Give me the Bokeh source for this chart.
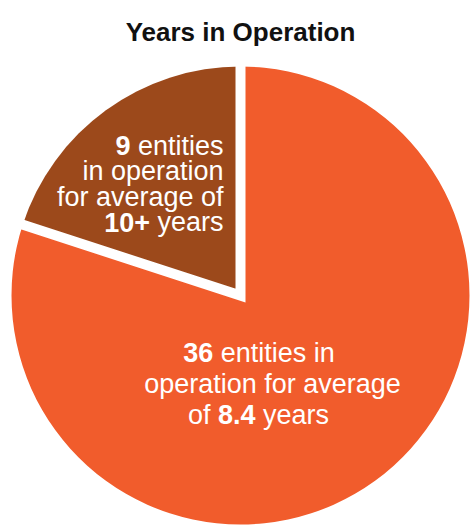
import math
from bokeh.plotting import figure
from bokeh.models import Range1d
from bokeh.core.properties import value
from bokeh.embed import file_html
from bokeh.resources import INLINE

# ---- data ----
categories = ["Under 10 years", "10+ years"]
entity_counts = [36, 9]
avg_years = ["8.4", "10+"]
slice_colors = ["#F15C2C", "#9C491B"]
title_text = "Years in Operation"

W, H = 470, 525
FONT = "Liberation Sans"
FS = 27

# Arial / Liberation Sans advance widths (per 1000 em)
REG = {" ": 278, "a": 556, "e": 556, "f": 278, "g": 556, "i": 222, "n": 556, "o": 556,
       "p": 556, "r": 333, "s": 500, "t": 278, "v": 500, "y": 500, ".": 278, "+": 584}
BOLD = {" ": 278, ".": 278, "+": 584}


def tw(s, bold):
    tbl = BOLD if bold else REG
    w = 0.0
    for ch in s:
        w += 556 if ch.isdigit() else tbl.get(ch, 556)
    return w / 1000.0 * FS


p = figure(width=W, height=H, x_range=Range1d(0, W), y_range=Range1d(0, H),
           output_backend="svg", toolbar_location=None, min_border=0)
p.axis.visible = False
p.grid.visible = False
p.outline_line_color = None
p.background_fill_color = "white"
p.border_fill_color = "white"

cx, cy_px, R = 240, 295, 229
cy = H - cy_px

# wedges, clockwise from 12 o'clock
total = sum(entity_counts)
angles = [math.pi / 2]
for v in entity_counts:
    angles.append(angles[-1] - 2 * math.pi * v / total)
p.wedge(x=[cx] * len(entity_counts), y=[cy] * len(entity_counts), radius=R,
        start_angle=angles[:-1], end_angle=angles[1:], direction="clock",
        fill_color=slice_colors, line_color=None)

# white gaps along slice boundaries (mitered at the centre)
ext = R + 15
a0, a1 = angles[0], angles[1]
p.line(x=[cx + ext * math.cos(a0), cx, cx + ext * math.cos(a1)],
       y=[cy + ext * math.sin(a0), cy, cy + ext * math.sin(a1)],
       line_color="white", line_width=10, line_join="miter", line_cap="butt")

# title
p.text(x=[240], y=[H - 31.5], text=[title_text], text_font=value(FONT),
       text_font_size="26px", text_font_style="bold", text_color="#111111",
       text_align="center", text_baseline="alphabetic")


def draw_line(segs, x_anchor, y_px, mode):
    total_w = sum(tw(s, b) for s, b in segs)
    x = x_anchor - total_w if mode == "right" else x_anchor - total_w / 2
    for s, b in segs:
        lead = len(s) - len(s.lstrip(" "))
        trail = len(s) - len(s.rstrip(" "))
        core = s.strip(" ")
        x += tw(" " * lead, b)
        p.text(x=[x], y=[H - y_px], text=[core], text_font=value(FONT),
               text_font_size=f"{FS}px", text_font_style="bold" if b else "normal",
               text_color="white", text_align="left", text_baseline="alphabetic")
        x += tw(core, b) + tw(" " * trail, b)


brown_lines = [
    [(str(entity_counts[1]), True), (" entities", False)],
    [("in operation", False)],
    [("for average of", False)],
    [(avg_years[1], True), (" years", False)],
]
for i, segs in enumerate(brown_lines):
    draw_line(segs, 223, 145 + i * 25.6, "right")

orange_lines = [
    [(str(entity_counts[0]), True), (" entities in", False)],
    [("operation for average", False)],
    [("of ", False), (avg_years[0], True), (" years", False)],
]
orange_centers = [258.5, 272, 258]
for i, segs in enumerate(orange_lines):
    draw_line(segs, orange_centers[i], 352 + i * 31.2, "center")

open("out.html", "w").write(file_html(p, INLINE))
